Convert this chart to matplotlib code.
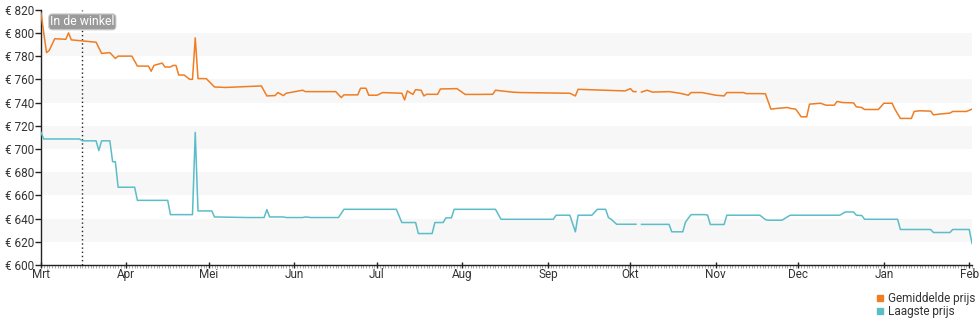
import numpy as np
import matplotlib
matplotlib.use("Agg")
import matplotlib.pyplot as plt
import matplotlib.dates as mdates
from matplotlib.lines import Line2D

plt.rcParams["font.family"] = ["Roboto", "DejaVu Sans"]

# Price history, days counted from 1 March; NaN marks a day without data
start = np.datetime64("2023-03-01")

avg_days = [0, 2, 3, 5, 9, 10, 11, 20, 22, 25, 27, 28, 33, 35, 39, 40, 41, 44, 45, 47,
            48, 49, 50, 52, 54, 55, 56, 57, 60, 63, 67, 80, 82, 85, 86, 88, 89, 95, 96,
            107, 109, 110, 115, 116, 118, 119, 122, 124, 131, 132, 133, 135, 136, 138,
            139, 140, 144, 145, 151, 154, 159, 164, 165, 171, 174, 192, 194, 195, 212,
            214, 215, 216, 217, 218, 220, 222, 228, 232, 235, 236, 240, 245, 248, 249,
            255, 256, 261, 263, 265, 267, 271, 272, 274, 276, 278, 279, 283, 285, 288,
            289, 291, 295, 296, 298, 299, 304, 306, 309, 310, 312, 316, 317, 319, 323,
            324, 326, 330, 331, 336, 338]
avg_vals = [817, 783, 785, 795, 794.5, 800, 794, 792, 782.3, 783, 778, 780, 780, 771.4,
            771.4, 767, 772, 774, 770.6, 770.6, 772, 772, 763.7, 763.7, 760, 760, 795.7,
            760.6, 760.6, 753.4, 753, 754.3, 745.7, 746, 748.6, 746, 748, 750.6, 749.4,
            749.4, 744.3, 746.6, 746.6, 752.3, 752.3, 746.3, 746.3, 748.6, 748, 742.3,
            750, 747, 751.1, 750.6, 745.7, 747.1, 747.1, 751.7, 752, 747, 747, 747.1,
            750.6, 749, 748.6, 748, 745.7, 751.4, 750, 752, 749.4, 749.4, np.nan, 749,
            750.6, 749, 749.4, 748, 746.3, 748.6, 748.6, 746.3, 745.7, 748.6, 748.6,
            747.7, 747.7, 747.5, 734.3, 734.9, 735.7, 735, 734.3, 727.7, 727.7, 738.6,
            739.4, 737.7, 737.7, 740.9, 740, 739.7, 736.3, 735.7, 734, 734, 739.4, 739.4,
            734.3, 726.3, 726.3, 732.3, 732.9, 732.6, 729.4, 730, 730.9, 732.3, 732.3,
            734.3]

low_days = [0, 1, 14, 15, 20, 21, 22, 25, 26, 27, 28, 34, 35, 46, 47, 55, 56, 57, 62, 63,
            75, 81, 82, 83, 88, 89, 95, 96, 98, 108, 110, 129, 131, 136, 137, 142, 143,
            146, 147, 149, 150, 165, 167, 186, 187, 192, 194, 195, 200, 202, 205, 206,
            207, 209, 216, 217, 218, 228, 229, 233, 234, 236, 241, 242, 243, 248, 249,
            261, 263, 264, 269, 272, 290, 292, 295, 296, 298, 299, 311, 312, 323, 324,
            330, 331, 337, 338]
low_vals = [714.3, 708.6, 708.6, 707, 707, 698.6, 707, 707, 689, 689, 667, 667, 655.7,
            655.7, 643.4, 643.4, 714.3, 646.6, 646.6, 641.4, 640.9, 640.9, 647.7, 641.4,
            641.4, 640.9, 640.9, 641.4, 640.9, 640.9, 648, 648, 636.6, 636.6, 627.1,
            627.1, 636.6, 636.6, 640.6, 640.6, 648, 648, 639.4, 639.4, 642.9, 642.9,
            628.6, 642.9, 642.9, 648, 648, 640.9, 639.4, 635.1, 635.1, np.nan, 635, 635,
            628.6, 628.6, 637.1, 643.4, 643.4, 643, 634.9, 634.9, 642.9, 642.9, 639.1,
            638.6, 638.6, 642.9, 642.9, 645.7, 645.7, 642.9, 642.6, 639.4, 639.4, 630.6,
            630.6, 628, 628, 630.6, 630.6, 618.6]

month_starts = ["2023-03-01", "2023-04-01", "2023-05-01", "2023-06-01", "2023-07-01",
                "2023-08-01", "2023-09-01", "2023-10-01", "2023-11-01", "2023-12-01",
                "2024-01-01", "2024-02-01"]
month_labels = ["Mrt", "Apr", "Mei", "Jun", "Jul", "Aug", "Sep", "Okt", "Nov", "Dec",
                "Jan", "Feb"]
y_ticks = [600, 620, 640, 660, 680, 700, 720, 740, 760, 780, 800, 820]
store_day = 15
store_label = "In de winkel"

avg_color = "#f07d22"
low_color = "#5bbdc8"
text_color = "#333333"

avg_x = start + np.array(avg_days).astype("timedelta64[D]")
low_x = start + np.array(low_days).astype("timedelta64[D]")
end_x = start + np.timedelta64(338, "D")

fig = plt.figure(figsize=(9.8, 3.25), dpi=100)
ax = fig.add_axes([41 / 980, 60 / 325, 931 / 980, 255.3 / 325])

# alternating horizontal bands
for lo in range(620, 800, 40):
    ax.axhspan(lo, lo + 20, color="#f7f7f7", lw=0, zorder=0)

ax.plot(avg_x, avg_vals, color=avg_color, lw=1.1, zorder=3)
ax.plot(low_x, low_vals, color=low_color, lw=1.1, zorder=3)

store_x = start + np.timedelta64(store_day, "D")
ax.axvline(store_x, color="#222222", lw=1.0, linestyle=(0, (1, 2)), zorder=2)
ax.text(store_x, 809.5, store_label, ha="center", va="center", fontsize=8.8,
        color="white", zorder=5,
        bbox=dict(boxstyle="round,pad=0.12,rounding_size=0.3", fc="#9a9a9a",
                  ec="#d0d0d0", lw=0.8))

ax.set_xlim(start, end_x)
ax.set_ylim(600, 820)

ax.set_xticks([np.datetime64(m) for m in month_starts])
ax.set_xticklabels(month_labels)
ax.xaxis.set_minor_locator(mdates.DayLocator())
ax.set_yticks(y_ticks)
ax.set_yticklabels([f"€ {v}" for v in y_ticks])

for side in ("top", "right"):
    ax.spines[side].set_visible(False)
for side in ("left", "bottom"):
    ax.spines[side].set_color("#222222")
    ax.spines[side].set_linewidth(1.0)

ax.tick_params(axis="y", which="major", length=4, width=1, color="#222222",
               labelsize=8.5, labelcolor=text_color, pad=1)
ax.tick_params(axis="x", which="major", length=5, width=1, color="#222222",
               direction="inout", labelsize=8.5, labelcolor=text_color, pad=0)
ax.tick_params(axis="x", which="minor", length=2, width=0.5, color="#888888",
               direction="out")

handles = [Line2D([], [], marker="s", linestyle="none", markersize=5,
                  markerfacecolor=avg_color, markeredgecolor=avg_color),
           Line2D([], [], marker="s", linestyle="none", markersize=5,
                  markerfacecolor=low_color, markeredgecolor=low_color)]
fig.legend(handles, ["Gemiddelde prijs", "Laagste prijs"], loc="upper left",
           bbox_to_anchor=(871 / 980, 1 - 286 / 325), frameon=False,
           fontsize=8.5, handlelength=0.6, handletextpad=0.3, labelspacing=0.05,
           borderpad=0, labelcolor=text_color)

fig.savefig("out.png", dpi=100)
